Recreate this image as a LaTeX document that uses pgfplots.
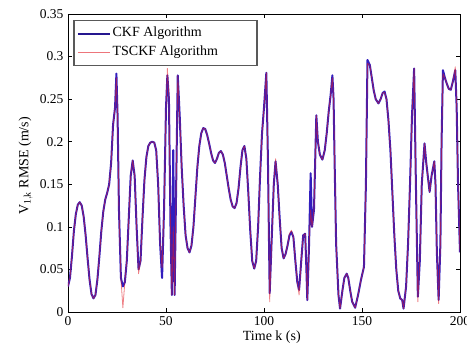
\documentclass[border=0pt]{standalone}
\usepackage{fontspec}
\setmainfont{Liberation Serif}
\usepackage{pgfplots}
\pgfplotsset{compat=1.18}
\definecolor{ckfblue}{RGB}{50,30,190}
\definecolor{tsred}{RGB}{225,25,35}
\begin{document}
\begin{tikzpicture}
\useasboundingbox (-68pt,-37pt) rectangle (399pt,312pt);
\begin{axis}[
  at={(0pt,0pt)}, anchor=south west,
  scale only axis, width=392pt, height=298pt,
  xmin=0, xmax=200, ymin=0, ymax=0.35,
  xtick={0,50,100,150,200},
  ytick={0,0.05,0.1,0.15,0.2,0.25,0.3,0.35},
  yticklabels={0,0.05,0.1,0.15,0.2,0.25,0.3,0.35},
  tick align=inside, major tick length=4pt,
  tick style={black, line width=0.6pt},
  axis line style={black, line width=0.9pt},
  /pgf/number format/assume math mode=true,
  tick label style={font=\fontsize{13.5}{15}\selectfont},
  xticklabel style={yshift=-1pt},
  yticklabel style={xshift=-1pt},
  xlabel={Time k (s)},
  ylabel={V$_{\mathrm{1,k}}$ RMSE (m/s)},
  label style={font=\fontsize{14}{15}\selectfont},
  xlabel style={at={(axis description cs:0.52,-0.084)}, anchor=center},
  ylabel style={at={(axis description cs:-0.108,0.49)}, anchor=center},
  legend style={at={(0.0135,0.98)}, anchor=north west, draw=gray!70!black, line width=1.4pt,
    font=\fontsize{14}{15}\selectfont, inner xsep=3pt, inner ysep=4pt, row sep=0pt,
    nodes={text height=10pt, text depth=4.5pt}, fill=white},
  legend cell align=left,
  legend image code/.code={\draw[#1] (0pt,0pt) -- (32pt,0pt);},
]
\addplot[ckfblue, line width=2pt, line join=round, forget plot] coordinates {
(0,0.030) (1,0.040) (2,0.065) (3,0.095) (4,0.115) (5,0.126) (6,0.129) (7,0.125) (8,0.112) (9,0.090)
(10,0.063) (11,0.038) (12,0.021) (13,0.016) (14,0.020) (15,0.038) (16,0.065) (17,0.095) (18,0.118) (19,0.132)
(20,0.140) (21,0.150) (22,0.175) (23,0.220) (24,0.240) (24.7,0.280) (25.3,0.230) (26,0.120) (27,0.040) (28,0.030)
(29,0.035) (30,0.060) (31,0.110) (32,0.160) (33,0.178) (34,0.160) (35,0.100) (36,0.050) (37,0.060) (38,0.110)
(39,0.155) (40,0.182) (41,0.195) (42,0.199) (43,0.200) (44,0.199) (45,0.190) (46,0.150) (47,0.080) (48,0.040)
(49,0.120) (50,0.240) (50.7,0.278) (51.5,0.250) (52.3,0.100) (53,0.020) (53.7,0.190) (54.4,0.020) (55.2,0.150) (56,0.278)
(57,0.230) (58,0.170) (59,0.125) (60,0.090) (61,0.075) (62,0.070) (63,0.078) (64,0.100) (65,0.135) (66,0.170)
(67,0.195) (68,0.210) (69,0.216) (70,0.215) (71,0.208) (72,0.198) (73,0.187) (74,0.178) (75,0.175) (76,0.180)
(77,0.187) (78,0.189) (79,0.185) (80,0.175) (81,0.160) (82,0.145) (83,0.132) (84,0.124) (85,0.122) (86,0.128)
(87,0.145) (88,0.170) (89,0.190) (90,0.195) (91,0.180) (92,0.140) (93,0.095) (94,0.060) (95,0.051) (96,0.060)
(97,0.100) (98,0.160) (99,0.210) (100,0.240) (101.2,0.281) (102,0.180) (102.9,0.022) (104,0.090) (105,0.150) (105.9,0.177)
(107,0.150) (108,0.110) (109,0.075) (110,0.063) (111,0.068) (112,0.078) (113,0.090) (114,0.094) (115,0.088) (116,0.060)
(117,0.035) (117.9,0.026) (119,0.060) (120,0.090) (121,0.092) (121.5,0.060) (122.1,0.014) (123,0.080) (123.8,0.163) (124.5,0.100)
(125.5,0.120) (126.7,0.231) (127.5,0.200) (128.5,0.185) (129.8,0.179) (131,0.190) (132,0.210) (133,0.235) (134,0.255) (134.9,0.278)
(135.5,0.250) (136,0.180) (136.8,0.080) (138,0.020) (138.8,0.004) (140,0.025) (141,0.040) (142.2,0.045) (143,0.040) (144,0.025)
(145,0.012) (146.5,0.005) (148,0.020) (149.5,0.038) (151,0.053) (152,0.150) (152.8,0.296) (154,0.290) (155,0.275) (156,0.260)
(157,0.250) (158.4,0.245) (159.5,0.250) (160.5,0.257) (161.5,0.259) (162.5,0.250) (163.5,0.225) (164.5,0.190) (165.5,0.140) (166.5,0.090)
(167.5,0.050) (168.5,0.025) (169.5,0.016) (170.5,0.014) (171.2,0.004) (172.5,0.030) (173.5,0.080) (174.5,0.150) (175.5,0.230) (176.6,0.286)
(177.5,0.150) (178.5,0.018) (179.5,0.060) (180.5,0.150) (181.9,0.198) (182.8,0.175) (184.5,0.141) (185.5,0.160) (186.9,0.177) (187.5,0.150)
(188.2,0.070) (189.1,0.014) (190,0.080) (190.6,0.200) (191.3,0.284) (192.3,0.275) (193.3,0.268) (194.3,0.262) (195.3,0.261) (196.3,0.270)
(197.6,0.284) (198.3,0.240) (199,0.150) (200,0.070)
};
\addplot[tsred, line width=0.8pt, opacity=0.55, line join=round, forget plot] coordinates {
(0,0.030) (1,0.040) (2,0.065) (3,0.095) (4,0.115) (5,0.126) (6,0.129) (7,0.125) (8,0.112) (9,0.090)
(10,0.063) (11,0.038) (12,0.021) (13,0.016) (14,0.020) (15,0.038) (16,0.065) (17,0.095) (18,0.118) (19,0.132)
(20,0.140) (21,0.150) (22,0.175) (23,0.220) (24,0.240) (24.7,0.275) (25.3,0.230) (26,0.120) (27,0.040) (28,0.005)
(29,0.035) (30,0.060) (31,0.110) (32,0.160) (33,0.178) (34,0.160) (35,0.100) (36,0.045) (37,0.060) (38,0.110)
(39,0.155) (40,0.182) (41,0.195) (42,0.199) (43,0.200) (44,0.199) (45,0.190) (46,0.150) (47,0.080) (48,0.052)
(49,0.120) (50,0.240) (50.7,0.286) (51.5,0.250) (52.3,0.100) (53,0.020) (53.7,0.100) (54.4,0.020) (55.2,0.150) (56,0.278)
(57,0.230) (58,0.170) (59,0.125) (60,0.090) (61,0.075) (62,0.070) (63,0.078) (64,0.100) (65,0.135) (66,0.170)
(67,0.195) (68,0.210) (69,0.216) (70,0.215) (71,0.208) (72,0.198) (73,0.187) (74,0.178) (75,0.175) (76,0.180)
(77,0.187) (78,0.189) (79,0.185) (80,0.175) (81,0.160) (82,0.145) (83,0.132) (84,0.124) (85,0.122) (86,0.128)
(87,0.145) (88,0.170) (89,0.190) (90,0.195) (91,0.180) (92,0.140) (93,0.095) (94,0.060) (95,0.051) (96,0.060)
(97,0.100) (98,0.160) (99,0.210) (100,0.240) (101.2,0.281) (102,0.180) (102.9,0.012) (104,0.090) (105,0.150) (105.9,0.180)
(107,0.150) (108,0.110) (109,0.075) (110,0.063) (111,0.068) (112,0.078) (113,0.092) (114,0.096) (115,0.088) (116,0.060)
(117,0.035) (117.9,0.020) (119,0.060) (120,0.090) (121,0.092) (121.5,0.060) (122.1,0.014) (123,0.080) (123.8,0.120) (124.5,0.100)
(125.5,0.120) (126.7,0.231) (127.5,0.200) (128.5,0.185) (129.8,0.179) (131,0.190) (132,0.210) (133,0.235) (134,0.255) (134.9,0.275)
(135.5,0.250) (136,0.180) (136.8,0.080) (138,0.020) (138.8,0.004) (140,0.025) (141,0.040) (142.2,0.045) (143,0.040) (144,0.025)
(145,0.012) (146.5,0.005) (148,0.020) (149.5,0.038) (151,0.053) (152,0.150) (152.8,0.292) (154,0.290) (155,0.275) (156,0.260)
(157,0.250) (158.4,0.245) (159.5,0.250) (160.5,0.257) (161.5,0.258) (162.5,0.250) (163.5,0.225) (164.5,0.190) (165.5,0.140) (166.5,0.090)
(167.5,0.050) (168.5,0.025) (169.5,0.016) (170.5,0.014) (171.2,0.004) (172.5,0.030) (173.5,0.080) (174.5,0.150) (175.5,0.230) (176.6,0.286)
(177.5,0.150) (178.5,0.012) (179.5,0.060) (180.5,0.150) (181.9,0.198) (182.8,0.175) (184.5,0.141) (185.5,0.160) (186.9,0.177) (187.5,0.150)
(188.2,0.070) (189.1,0.010) (190,0.080) (190.6,0.200) (191.3,0.280) (192.3,0.275) (193.3,0.268) (194.3,0.262) (195.3,0.261) (196.3,0.270)
(197.6,0.288) (198.3,0.240) (199,0.150) (200,0.070)
};
\addlegendimage{ckfblue!75!black, line width=1.6pt}
\addlegendentry{CKF Algorithm}
\addlegendimage{tsred!60!white, line width=1.6pt}
\addlegendentry{TSCKF Algorithm\hspace*{34pt}}
\end{axis}
\end{tikzpicture}
\end{document}
